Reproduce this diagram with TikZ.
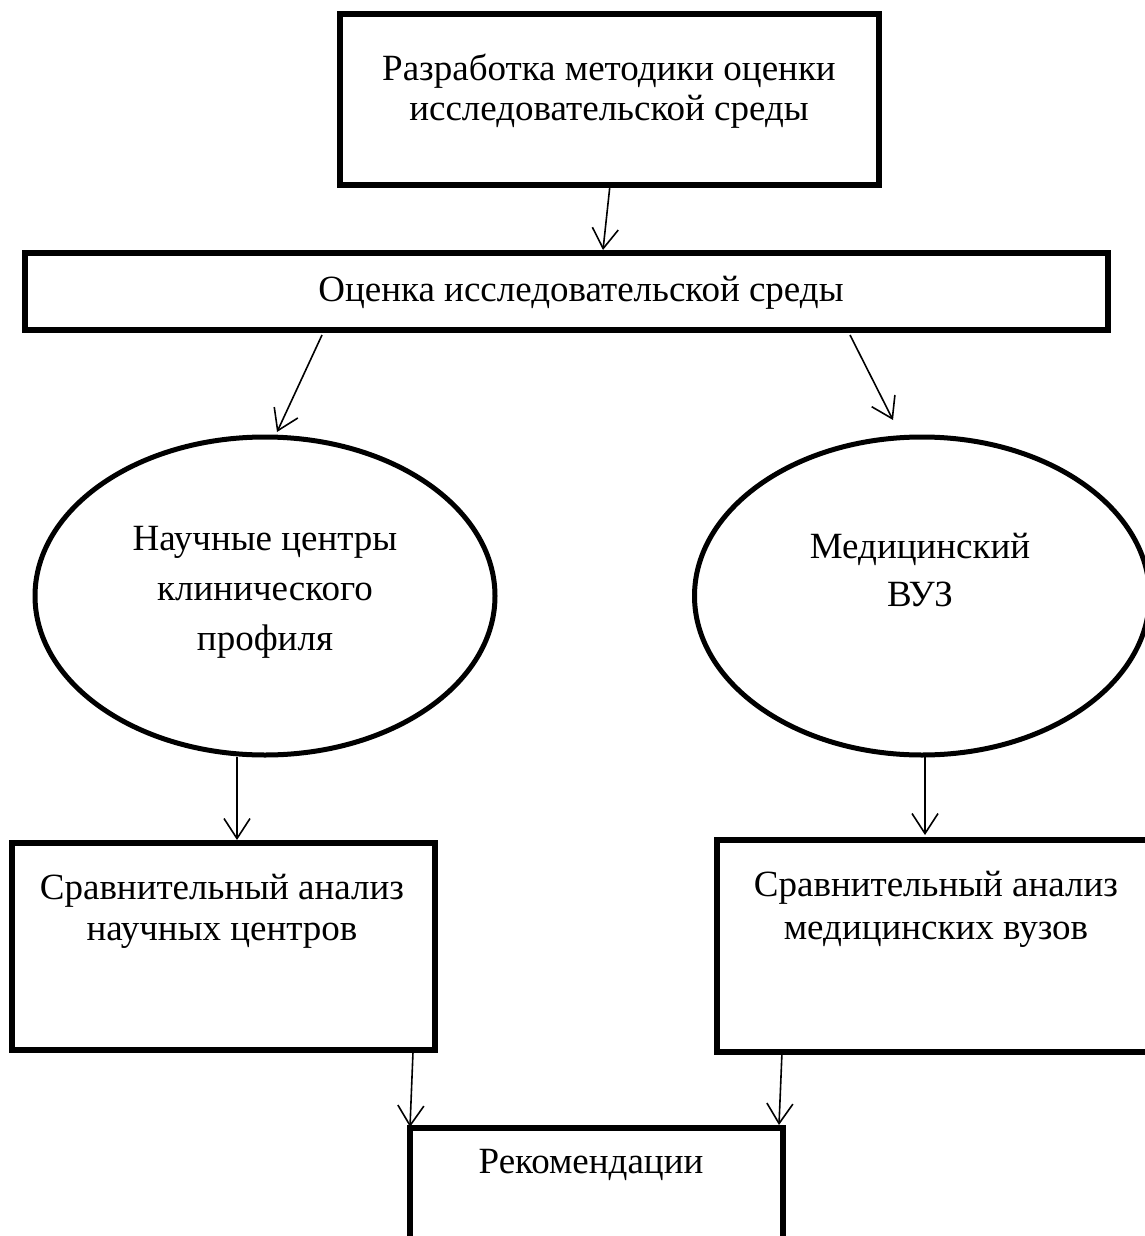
\documentclass[tikz,border=0pt]{standalone}
\usepackage{fontspec}
\setmainfont{Liberation Serif}
\usetikzlibrary{arrows.meta,shapes.geometric}
\begin{document}
\begin{tikzpicture}[x=1pt,y=-1pt,
  boxstyle/.style={draw,line width=5.5pt,rectangle,inner sep=0pt},
  ellstyle/.style={draw,line width=5pt,ellipse,inner sep=0pt},
  txt/.style={align=center,font=\fontsize{37}{42}\selectfont,inner sep=0pt},
  arr/.style={line width=1.6pt,-{Straight Barb[length=20pt,width=26pt,line width=1.6pt]}}]
\useasboundingbox (0,0) rectangle (1145,1236);
\clip (0,0) rectangle (1145,1236);
% top box
\node[boxstyle,minimum width=539pt,minimum height=171pt] (b1) at (609.5,99.5) {};
\node[txt,font=\fontsize{37}{40}\selectfont] (t1) at (609,91) {Разработка методики оценки\\исследовательской среды};
% second box
\node[boxstyle,minimum width=1083pt,minimum height=77pt] (b2) at (566.5,291.5) {};
\node[txt] (t2) at (581,293) {Оценка исследовательской среды};
% ellipses
\node[ellstyle,minimum width=460pt,minimum height=318pt] (e1) at (265,596) {};
\node[txt,font=\fontsize{37}{50}\selectfont] (te1) at (265,592) {Научные центры\\клинического\\профиля};
\node[ellstyle,minimum width=455pt,minimum height=318pt] (e2) at (922,596) {};
\node[txt,font=\fontsize{37}{48}\selectfont] (te2) at (920,570) {Медицинский\\ВУЗ};
% analysis boxes
\node[boxstyle,minimum width=423pt,minimum height=207pt] (b3) at (223.5,946.5) {};
\node[txt,font=\fontsize{37}{41}\selectfont] (t3) at (222,911) {Сравнительный анализ\\научных центров};
\node[boxstyle,minimum width=433pt,minimum height=212pt] (b4) at (933.5,946) {};
\node[txt,font=\fontsize{37}{43}\selectfont] (t4) at (936,909) {Сравнительный анализ\\медицинских вузов};
% bottom box
\node[boxstyle,minimum width=373pt,minimum height=180pt] (b5) at (596.5,1218) {};
\node[txt] (t5) at (591,1165) {Рекомендации};
% connectors
\coordinate (a1s) at (610,185);
\coordinate (a1e) at (603,250);
\draw[arr] (a1s) -- (a1e);
\coordinate (a2s) at (322,335);
\coordinate (a2e) at (277,432);
\draw[arr] (a2s) -- (a2e);
\coordinate (a3s) at (850,335);
\coordinate (a3e) at (893,420);
\draw[arr] (a3s) -- (a3e);
\coordinate (a4s) at (237,757);
\coordinate (a4e) at (237,840);
\draw[arr] (a4s) -- (a4e);
\coordinate (a5s) at (925,757);
\coordinate (a5e) at (925,835);
\draw[arr] (a5s) -- (a5e);
\coordinate (a6s) at (413,1052);
\coordinate (a6e) at (410,1127);
\draw[arr] (a6s) -- (a6e);
\coordinate (a7s) at (782,1052);
\coordinate (a7e) at (779,1125);
\draw[arr] (a7s) -- (a7e);
\end{tikzpicture}
\end{document}
